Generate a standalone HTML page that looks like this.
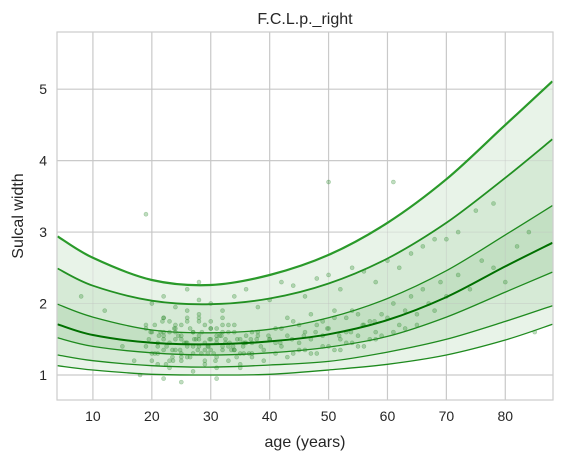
<!DOCTYPE html>
<html><head><meta charset="utf-8"><style>
body{margin:0;background:#fff;}
svg text{font-family:"Liberation Sans","DejaVu Sans",sans-serif;fill:#262626;}
</style></head><body>
<svg id="chart" width="562" height="463" viewBox="0 0 562 463" xmlns="http://www.w3.org/2000/svg">
<rect width="562" height="463" fill="#fff"/>
<g id="grid"></g>
<g id="bands"></g>
<g id="pts"></g>
<g id="lines"></g>
<rect x="57" y="32" width="496" height="368" fill="none" stroke="#cccccc" stroke-width="1.2"/>
<g id="ticks"></g>
<text x="305" y="24" text-anchor="middle" font-size="16">F.C.L.p._right</text>
<text x="305" y="447" text-anchor="middle" font-size="16">age (years)</text>
<text x="23" y="216" text-anchor="middle" font-size="16" transform="rotate(-90 23 216)">Sulcal width</text>
</svg>
<script>
const ages=[4,10,20,30,40,50,60,70,80,88];
const c1=[2.94,2.64,2.33,2.26,2.40,2.68,3.13,3.74,4.50,5.11];
const c2=[2.49,2.25,2.04,1.99,2.07,2.28,2.63,3.13,3.76,4.30];
const c3=[1.99,1.81,1.63,1.59,1.64,1.80,2.07,2.46,2.96,3.37];
const c4=[1.71,1.56,1.45,1.43,1.47,1.57,1.77,2.09,2.52,2.85];
const c5=[1.52,1.40,1.31,1.28,1.31,1.39,1.54,1.81,2.16,2.44];
const c6=[1.28,1.20,1.13,1.11,1.14,1.19,1.32,1.50,1.75,1.97];
const c7=[1.13,1.07,1.01,1.00,1.01,1.07,1.15,1.28,1.49,1.71];
const xTicks=[10,20,30,40,50,60,70,80];
const yTicks=[1,2,3,4,5];
const ptAge=[19,20,21,22,22,23,23,24,24,25,25,26,26,27,27,28,28,29,29,30,30,31,31,32,33,34,35,36,37,38,39,40,41,42,43,44,45,46,47,48,49,50,51,52,53,54,55,56,57,58,59,60,61,62,63,64,65,66,67,68,69,70,72,74,76,78,80,82,84,21,23,25,27,29,31,33,35,37,39,41,43,45,47,49,51,53,55,57,59,61,63,65,18,20,22,24,26,28,30,32,34,36,38,40,42,44,46,48,50,52,54,56,58,60,62,64,66,68,70,72,75,78,8,12,15,17,19,22,25,28,31,35,50,61,85,19,22,24,26,28,30,32,34,
19.5,20.5,21.5,22.5,23.5,24.5,25.5,26.5,27.5,28.5,29.5,30.5,31.5,32.5,33.5,34.5,35.5,36.5,20,21,22,23,24,25,26,27,28,29,30,31,32,33,34,35,36,37,38,19,20.5,22,23.5,25,26.5,28,29.5,31,32.5,34,35.5,37,38.5,40,20,21.2,22.4,23.6,24.8,26,27.2,28.4,29.6,30.8,32,33.2,34.4,35.6,36.8,21,22,23,24,25,26,27,28,29,30,31,32,33,19.8,21.8,23.8,25.8,27.8,29.8,31.8,33.8,35.8,37.8,39.8,41.8,43.8,45.8,47.8,49.8,51.8,53.8,55.8,57.8,42,44,46,48,50,52,54,56,58,41,43,45,47,49,51,53,55];
const ptVal=[1.4,1.6,1.3,1.5,1.8,1.2,1.45,1.7,1.35,1.55,1.25,1.9,1.4,1.6,1.3,1.5,1.75,1.2,1.45,1.65,1.35,1.5,1.25,1.6,1.4,1.7,1.3,1.55,1.45,1.6,1.35,1.5,1.65,1.4,1.55,1.75,1.45,1.6,1.5,1.7,1.55,1.65,1.8,1.5,1.6,1.9,1.55,1.7,1.75,1.6,1.85,1.8,2.0,1.7,1.9,2.1,1.85,2.2,2.0,1.9,2.3,2.1,2.4,2.2,2.6,2.5,2.3,2.8,3.0,1.15,1.1,1.2,1.05,1.15,1.1,1.2,1.15,1.25,1.2,1.3,1.25,1.35,1.3,1.4,1.35,1.45,1.4,1.5,1.55,1.6,1.65,1.7,1.0,2.0,2.1,1.95,2.2,2.05,2.0,1.9,2.1,2.2,1.95,2.05,2.3,2.25,2.1,2.35,2.4,2.2,2.5,2.45,2.3,2.6,2.5,2.7,2.8,2.9,2.9,3.0,3.3,3.4,2.1,1.9,1.4,1.2,3.25,0.95,0.9,2.3,0.95,1.1,3.7,3.7,1.6,1.7,1.8,1.6,1.75,1.8,1.65,1.7,1.6,
1.5,1.3,1.6,1.4,1.35,1.55,1.45,1.25,1.5,1.6,1.4,1.3,1.55,1.45,1.35,1.5,1.4,1.3,1.2,1.45,1.35,1.6,1.5,1.3,1.45,1.4,1.55,1.35,1.5,1.45,1.4,1.6,1.35,1.5,1.45,1.3,1.55,1.65,1.7,1.55,1.25,1.5,1.65,1.4,1.3,1.55,1.5,1.35,1.45,1.6,1.4,1.5,1.3,1.55,1.15,1.2,1.35,1.25,1.5,1.3,1.4,1.2,1.35,1.45,1.25,1.3,1.5,1.4,1.6,1.75,1.65,1.7,1.8,1.6,1.85,1.7,1.75,1.65,1.8,1.7,1.6,1.75,1.65,1.45,1.35,1.5,1.55,1.4,1.45,1.5,1.55,1.45,1.5,1.55,1.6,1.65,1.55,1.6,1.7,1.75,1.65,1.3,1.35,1.3,1.4,1.35,1.45,1.4,1.5,1.45,1.8,1.7,1.85,1.75,1.9,1.8,1.85,1.9];
const NS="http://www.w3.org/2000/svg";
const X0=57,X1=553,A0=3.9,A1=88.1,Y0=400,Y1=32,V0=0.65,V1=5.8;
const sx=a=>X0+(a-A0)/(A1-A0)*(X1-X0);
const sy=v=>Y0-(v-V0)/(V1-V0)*(Y0-Y1);
function mk(t,attrs,parent){const e=document.createElementNS(NS,t);for(const k in attrs)e.setAttribute(k,attrs[k]);parent.appendChild(e);return e;}
function pts(vals){return ages.map((a,i)=>[sx(a),sy(vals[i])]);}
function smooth(p){let d="M"+p[0][0].toFixed(1)+","+p[0][1].toFixed(1);
 for(let i=0;i<p.length-1;i++){const p0=p[i-1]||p[i],p1=p[i],p2=p[i+1],p3=p[i+2]||p2;
  const c1x=p1[0]+(p2[0]-p0[0])/6,c1y=p1[1]+(p2[1]-p0[1])/6,c2x=p2[0]-(p3[0]-p1[0])/6,c2y=p2[1]-(p3[1]-p1[1])/6;
  d+=` C${c1x.toFixed(1)},${c1y.toFixed(1)} ${c2x.toFixed(1)},${c2y.toFixed(1)} ${p2[0].toFixed(1)},${p2[1].toFixed(1)}`;}
 return d;}
function smoothRev(p){const r=p.slice().reverse();return smooth(r).replace(/^M/,"L");}
const grid=document.getElementById('grid');
xTicks.forEach(t=>{const l=mk('line',{x1:sx(t),x2:sx(t),y1:Y1,y2:Y0,stroke:'#d0d0d0','stroke-width':1.2},grid);

});
yTicks.forEach(t=>{const l=mk('line',{x1:X0,x2:X1,y1:sy(t),y2:sy(t),stroke:'#d0d0d0','stroke-width':1.2},grid);

});
const ticks=document.getElementById('ticks');
xTicks.forEach(t=>{const e=mk('text',{x:sx(t),y:Y0+21,'text-anchor':'middle','font-size':14},ticks);e.textContent=t;

});
yTicks.forEach(t=>{const e=mk('text',{x:X0-10,y:sy(t)+5,'text-anchor':'end','font-size':14},ticks);e.textContent=t;

});
const bands=document.getElementById('bands');
[[c1,c7,'#e8f3e8'],[c2,c6,'#d6ead6'],[c3,c5,'#c3e0c3']].forEach(([u,l,f])=>{
 const d=smooth(pts(u))+" "+smoothRev(pts(l))+" Z";
 const e=mk('path',{d:d,fill:f},bands);
 
 });
xTicks.forEach(t=>{const l=mk('line',{x1:sx(t),x2:sx(t),y1:Y1,y2:Y0,stroke:'#bcbcbc','stroke-width':1,'stroke-opacity':0.35},bands);

});
yTicks.forEach(t=>{const l=mk('line',{x1:X0,x2:X1,y1:sy(t),y2:sy(t),stroke:'#bcbcbc','stroke-width':1,'stroke-opacity':0.35},bands);

});
const pg=document.getElementById('pts');
ptAge.forEach((a,i)=>{const c=mk('circle',{cx:sx(a),cy:sy(ptVal[i]),r:2,fill:'#2e8b2e','fill-opacity':0.3,stroke:'#2e8b2e','stroke-opacity':0.35,'stroke-width':0.6},pg);

});
const lg=document.getElementById('lines');
[[c1,2.2,'#2a9a2a'],[c2,1.8,'#229022'],[c3,1.3,'#1e8a1e'],[c4,2,'#007000'],[c5,1.3,'#1e8a1e'],[c6,1.3,'#1e8a1e'],[c7,1.3,'#1e8a1e']].forEach(([v,w,col])=>{
 const e=mk('path',{d:smooth(pts(v)),fill:'none',stroke:col,'stroke-width':w},lg);
 
 });
</script>
</body></html>
